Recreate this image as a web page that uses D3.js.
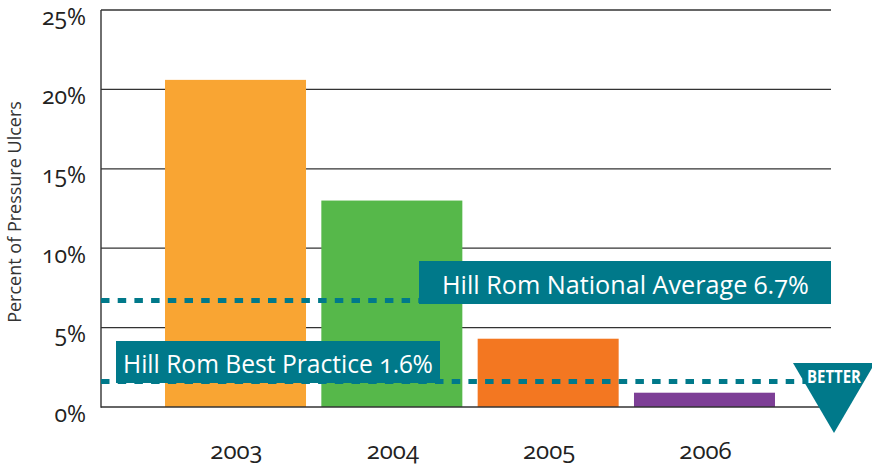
<!DOCTYPE html>
<html><head><meta charset="utf-8">
<script src="https://cdn.jsdelivr.net/npm/d3@7"></script>
<style>
body{margin:0;background:#fff}
svg{display:block}
text{font-family:"Open Sans",Lato,sans-serif;font-variant-numeric:oldstyle-nums;font-feature-settings:"onum" 1;}
</style>
</head><body>
<svg id="c" width="872" height="470"></svg>
<script>
const years = ["2003", "2004", "2005", "2006"];
const ulcerRates = [20.6, 13.0, 4.3, 0.9];
const barColors = ["#F9A533", "#56B84A", "#F37721", "#7D3F96"];
const yTicks = [0, 5, 10, 15, 20, 25];
const yTickLabels = ["0%", "5%", "10%", "15%", "20%", "25%"];
const benchmarkNames = ["Hill Rom National Average 6.7%", "Hill Rom Best Practice 1.6%"];
const benchmarkValues = [6.7, 1.6];
const yTitle = "Percent of Pressure Ulcers";
const betterLabel = "BETTER";

const teal = "#00798A";
const svg = d3.select("#c");
const plotLeft = 101, plotRight = 831;

const x = d3.scaleBand().domain(years).range([157.35, 782.65]).paddingInner(0.098).paddingOuter(0.049);
const y = d3.scaleLinear().domain([0, 25]).range([407, 10]);

// gridlines (except baseline)
svg.append("g").selectAll("line").data(yTicks.filter(t => t > 0)).join("line")
  .attr("x1", plotLeft).attr("x2", plotRight)
  .attr("y1", d => y(d)).attr("y2", d => y(d))
  .attr("stroke", "#333").attr("stroke-width", 1.3);

// bars
svg.append("g").selectAll("rect").data(years).join("rect")
  .attr("x", d => x(d)).attr("width", x.bandwidth())
  .attr("y", (d, i) => y(ulcerRates[i]))
  .attr("height", (d, i) => y(0) - y(ulcerRates[i]))
  .attr("fill", (d, i) => barColors[i]);

// baseline & left axis line
svg.append("line").attr("x1", plotLeft).attr("x2", plotRight).attr("y1", y(0)).attr("y2", y(0))
  .attr("stroke", "#333").attr("stroke-width", 1.4);
svg.append("line").attr("x1", plotLeft).attr("x2", plotLeft).attr("y1", y(25)).attr("y2", y(0) + 0.7)
  .attr("stroke", "#333").attr("stroke-width", 1.4);

// y tick labels
svg.append("g").selectAll("text").data(yTicks).join("text")
  .attr("x", 86).attr("y", d => y(d) + 14.5)
  .attr("text-anchor", "end")
  .attr("font-size", 23).attr("fill", "#222")
  .text((d, i) => yTickLabels[i]);

// year labels
svg.append("g").selectAll("text").data(years).join("text")
  .attr("x", d => x(d) + x.bandwidth() / 2 + 1).attr("y", 459)
  .attr("text-anchor", "middle")
  .attr("font-size", 24).attr("fill", "#222")
  .text(d => d);

// y title
svg.append("text").attr("transform", "translate(21,212) rotate(-90)")
  .attr("text-anchor", "middle").attr("font-size", 18).attr("fill", "#333")
  .text(yTitle);

// benchmark lines
const lineEnds = [plotRight, 806];
benchmarkValues.forEach((v, i) => {
  svg.append("line").attr("x1", plotLeft).attr("x2", lineEnds[i])
    .attr("y1", y(v)).attr("y2", y(v))
    .attr("stroke", teal).attr("stroke-width", 5)
    .attr("stroke-dasharray", "8.5,8.2");
});

function fitText(t, target) {
  const w = t.node().getComputedTextLength();
  const fs = parseFloat(t.attr("font-size"));
  t.attr("font-size", fs * target / w);
}

// National average box
{
  const yv = y(benchmarkValues[0]);
  const g = svg.append("g");
  const r = g.append("rect").attr("fill", teal);
  const t = g.append("text").attr("font-size", 24).attr("fill", "#fff").text(benchmarkNames[0]);
  fitText(t, 367);
  const bw = 367 + 45;
  r.attr("x", plotRight - bw).attr("width", bw).attr("y", yv - 39.6).attr("height", 43);
  t.attr("x", plotRight - bw + 23).attr("y", yv - 6.6);
}
// Best practice box
{
  const yv = y(benchmarkValues[1]);
  const g = svg.append("g");
  const r = g.append("rect").attr("fill", teal);
  const t = g.append("text").attr("font-size", 24).attr("fill", "#fff").text(benchmarkNames[1]);
  fitText(t, 310);
  r.attr("x", 116).attr("width", 324).attr("y", yv - 40.6).attr("height", 42);
  t.attr("x", 123).attr("y", yv - 8.6);
}

// BETTER triangle
{
  const yv = y(benchmarkValues[1]);
  const cx = 834, top = yv - 18.6, hw = 41, apex = yv + 51.4;
  svg.append("path").attr("d", `M${cx - hw},${top}L${cx + hw},${top}L${cx},${apex}Z`).attr("fill", teal);
  svg.append("text").attr("x", cx).attr("y", yv + 1).attr("text-anchor", "middle")
    .attr("font-family", "'Liberation Sans Narrow','DejaVu Sans Condensed',sans-serif")
    .attr("font-weight", 700).attr("font-size", 17).attr("fill", "#fff")
    .attr("textLength", 54).attr("lengthAdjust", "spacingAndGlyphs")
    .text(betterLabel);
}
</script>
</body></html>
